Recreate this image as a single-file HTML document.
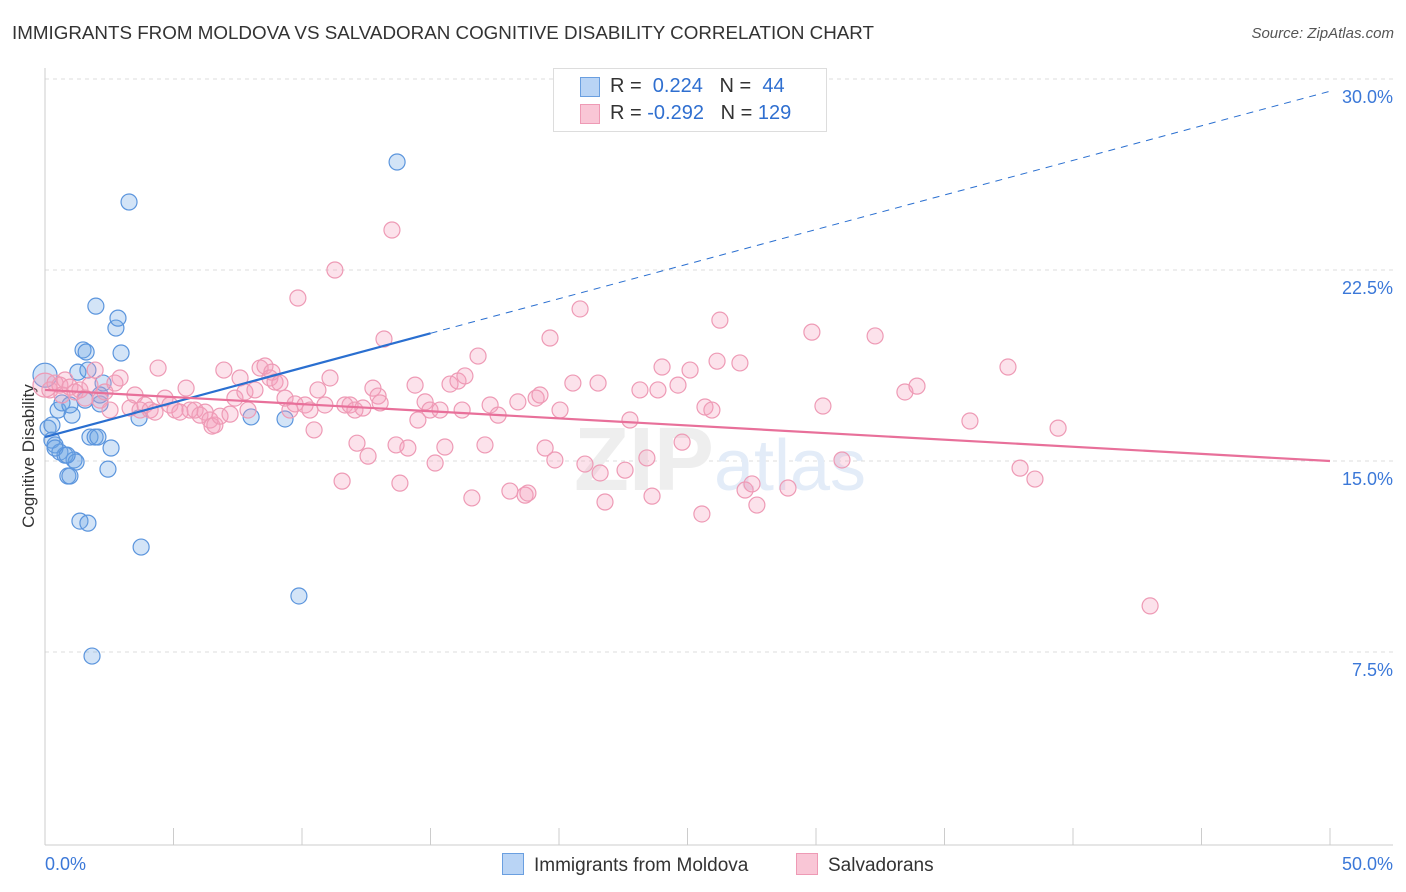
<!DOCTYPE html>
<html><head><meta charset="utf-8"><style>
body{margin:0;background:#fff;font-family:"Liberation Sans",sans-serif;}
#wrap{position:relative;width:1406px;height:892px;overflow:hidden;}
.t{position:absolute;white-space:nowrap;}
</style></head><body>
<div id="wrap">
<div class="t" style="left:12px;top:22px;font-size:18.8px;color:#333;">IMMIGRANTS FROM MOLDOVA VS SALVADORAN COGNITIVE DISABILITY CORRELATION CHART</div>
<div class="t" style="right:12px;top:25px;font-size:15px;color:#555;font-style:italic;">Source: ZipAtlas.com</div>
<svg id="svg" width="1406" height="892" style="position:absolute;left:0;top:0"></svg>
</div>
<script>
const xTicks=[0,5,10,15,20,25,30,35,40,45,50];
const yTicks=[7.5,15,22.5,30];
const yTickLabels=["7.5%","15.0%","22.5%","30.0%"];
const blueX=[0.0,0.12,0.27,0.39,0.51,0.58,0.66,0.78,0.89,0.97,1.05,1.13,1.21,1.28,1.36,1.48,1.6,1.67,1.67,1.75,1.83,1.95,1.98,2.06,2.14,2.26,2.45,2.57,2.76,2.84,2.96,3.27,3.66,3.74,8.02,9.34,9.88,13.7,1.56,0.97,0.27,0.39,0.86,2.14];
const blueY=[18.37,16.29,15.82,15.63,17.0,15.35,17.28,15.23,14.41,14.41,16.8,15.04,14.96,18.49,12.64,19.36,19.28,18.57,12.56,15.94,7.34,15.94,21.08,15.94,17.24,18.06,14.68,15.51,20.22,20.61,19.24,25.17,16.69,11.62,16.73,16.65,9.7,26.74,17.39,17.2,16.41,15.51,15.23,17.59];
const pinkX=[0.0,0.19,0.39,0.58,0.66,0.78,0.97,1.17,1.36,1.56,1.75,1.95,2.14,2.33,2.53,2.72,2.92,3.31,3.5,3.7,3.89,4.09,4.28,4.4,4.67,4.86,5.06,5.25,5.49,5.64,5.84,6.03,6.23,6.42,6.5,6.61,6.81,6.96,7.2,7.39,7.59,7.78,7.9,8.17,8.37,8.56,8.75,8.83,8.95,9.14,9.34,9.53,9.73,9.84,10.12,10.31,10.47,10.62,10.89,11.09,11.28,11.56,11.67,11.87,12.06,12.14,12.37,12.57,12.76,12.96,13.04,13.19,13.5,13.66,13.81,14.12,14.4,14.51,14.79,14.98,15.18,15.37,15.56,15.76,16.07,16.23,16.34,16.61,16.85,17.12,17.32,17.63,18.09,18.4,18.68,18.79,19.11,19.26,19.46,19.65,19.84,20.04,20.54,20.82,21.01,21.52,21.6,21.79,22.57,22.76,23.15,23.42,23.62,23.85,24.01,24.63,24.79,25.1,25.56,25.68,25.95,26.15,26.26,27.04,27.24,27.51,27.7,28.91,29.84,30.27,31.01,32.3,33.46,33.93,35.99,37.47,37.94,38.52,39.42,43.0];
const pinkY=[17.98,17.79,18.06,17.98,17.59,18.18,17.9,17.71,17.79,17.47,17.98,18.57,17.39,17.71,17.0,18.06,18.26,17.08,17.59,17.0,17.2,17.0,16.92,18.65,17.47,17.2,17.0,16.92,17.86,17.0,17.0,16.8,16.92,16.61,16.37,16.41,16.76,18.57,16.84,17.47,18.26,17.71,17.0,17.79,18.65,18.73,18.26,18.49,18.1,18.06,17.47,17.0,17.24,21.4,17.2,17.0,16.22,17.79,17.2,18.26,22.5,14.21,17.2,17.2,17.0,15.7,17.08,15.19,17.86,17.55,17.28,19.79,24.07,15.63,14.13,15.51,17.98,16.61,17.32,17.0,14.92,17.0,15.55,18.02,18.14,17.0,18.34,13.55,19.12,15.63,17.2,16.8,13.82,17.32,13.66,13.74,17.47,17.59,15.51,19.83,15.04,17.0,18.06,20.97,14.88,18.06,14.53,13.39,14.64,16.61,17.79,15.12,13.62,17.79,18.69,17.98,15.74,18.57,12.92,17.12,17.0,18.92,20.53,18.85,13.86,14.1,13.27,13.94,20.06,17.16,15.04,19.91,17.71,17.94,16.57,18.69,14.72,14.29,16.29,9.31];
const blueTrend=[15.94,0.2716]; // intercept, slope
const pinkTrend=[17.79,-0.0558];
const X=v=>45+v*25.7, Y=v=>843-v*25.467;
const svg=document.getElementById('svg');const NS='http://www.w3.org/2000/svg';
function mk(tag,attrs){const e=document.createElementNS(NS,tag);for(const k in attrs)e.setAttribute(k,attrs[k]);svg.appendChild(e);return e;}
yTicks.forEach((v,i)=>{
 const g=mk('line',{x1:45,x2:1393,y1:Y(v),y2:Y(v),stroke:'#dcdcdc','stroke-dasharray':'4,4'});
 
 
 const t=mk('text',{x:1393,y:Y(v)+24,'text-anchor':'end','font-size':18,fill:'#3b78d8'});t.textContent=yTickLabels[i];
 
 
});
let ax=mk('line',{x1:45,x2:45,y1:68,y2:845,stroke:'#ccc'});


ax=mk('line',{x1:45,x2:1393,y1:845,y2:845,stroke:'#ccc'});


xTicks.forEach(v=>{const l=mk('line',{x1:X(v),x2:X(v),y1:828,y2:845,stroke:'#ccc'});
 
 });
let t=mk('text',{x:45,y:870,'font-size':18,fill:'#3b78d8'});t.textContent=xTicks[0].toFixed(1)+'%';


t=mk('text',{x:1393,y:870,'text-anchor':'end','font-size':18,fill:'#3b78d8'});t.textContent=xTicks[xTicks.length-1].toFixed(1)+'%';


t=mk('text',{x:34,y:456,'text-anchor':'middle','font-size':17,fill:'#333',transform:'rotate(-90 34 456)'});t.textContent='Cognitive Disability';


t=mk('text',{x:720,y:490,'text-anchor':'middle','font-size':90,fill:'#eeeeee','font-weight':'bold'});t.innerHTML='ZIP<tspan fill="#e3ecf8" font-weight="normal" font-size="72">atlas</tspan>';


blueX.forEach((v,i)=>{const c=mk('circle',{cx:X(v),cy:Y(blueY[i]),r:i==0?12:8,fill:'rgba(110,165,230,0.3)',stroke:'#5b95dd','stroke-width':1.2});
 
 });
pinkX.forEach((v,i)=>{const c=mk('circle',{cx:X(v),cy:Y(pinkY[i]),r:i==0?12:8,fill:'rgba(245,160,190,0.3)',stroke:'#ee9ab5','stroke-width':1.2});
 
 });
let l=mk('line',{x1:X(0),y1:Y(blueTrend[0]),x2:X(15),y2:Y(blueTrend[0]+15*blueTrend[1]),stroke:'#2a6fd0','stroke-width':2.2});


l=mk('line',{x1:X(15),y1:Y(blueTrend[0]+15*blueTrend[1]),x2:X(50),y2:Y(blueTrend[0]+50*blueTrend[1]),stroke:'#2a6fd0','stroke-width':1,'stroke-dasharray':'7,6'});


l=mk('line',{x1:X(0),y1:Y(pinkTrend[0]),x2:X(50),y2:Y(pinkTrend[0]+50*pinkTrend[1]),stroke:'#e8709a','stroke-width':2.2});


</script>
<div class="t" style="left:553px;top:68px;width:272px;height:62px;border:1px solid #ddd;background:#fff;font-size:20px;">
 <div style="position:absolute;left:26px;top:8px;width:18px;height:18px;background:#b9d4f5;border:1px solid #6a9fe0;"></div>
 <div class="t" style="left:56px;top:6px;color:#333;">R = &nbsp;<span style="color:#2f6fd0">0.224</span> &nbsp;&nbsp;N = &nbsp;<span style="color:#2f6fd0">44</span></div>
 <div style="position:absolute;left:26px;top:35px;width:18px;height:18px;background:#f9c6d6;border:1px solid #ee9ab5;"></div>
 <div class="t" style="left:56px;top:33px;color:#333;">R = <span style="color:#2f6fd0">-0.292</span> &nbsp;&nbsp;N = <span style="color:#2f6fd0">129</span></div>
</div>
<div class="t" style="left:502px;top:853px;font-size:19px;color:#333;"><span style="display:inline-block;width:20px;height:20px;background:#b9d4f5;border:1px solid #6a9fe0;vertical-align:-4px;margin-right:10px"></span>Immigrants from Moldova</div>
<div class="t" style="left:796px;top:853px;font-size:19px;color:#333;"><span style="display:inline-block;width:20px;height:20px;background:#f9c6d6;border:1px solid #ee9ab5;vertical-align:-4px;margin-right:10px"></span>Salvadorans</div>
</body></html>
